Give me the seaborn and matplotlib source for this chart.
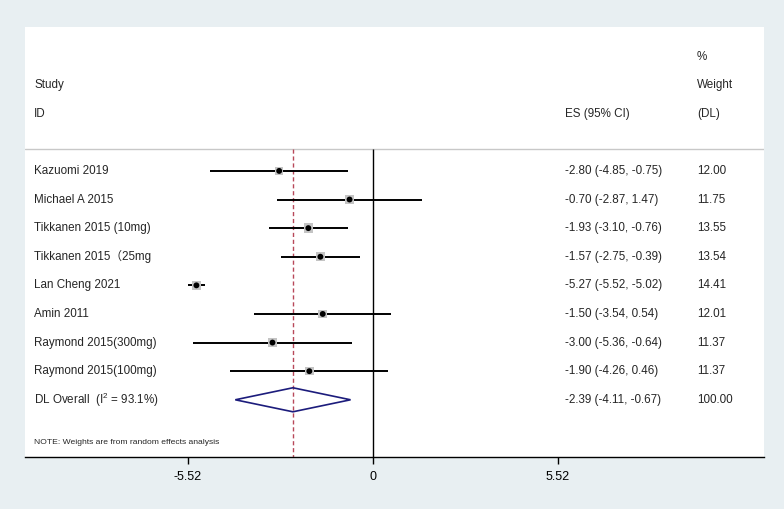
import numpy as np
import pandas as pd
import seaborn as sns
import matplotlib.pyplot as plt
import matplotlib.transforms as mtransforms

# data
studies = ["Kazuomi 2019", "Michael A 2015", "Tikkanen 2015 (10mg)", "Tikkanen 2015\uff0825mg",
           "Lan Cheng 2021", "Amin 2011", "Raymond 2015(300mg)", "Raymond 2015(100mg)"]
es = [-2.80, -0.70, -1.93, -1.57, -5.27, -1.50, -3.00, -1.90]
ci_low = [-4.85, -2.87, -3.10, -2.75, -5.52, -3.54, -5.36, -4.26]
ci_high = [-0.75, 1.47, -0.76, -0.39, -5.02, 0.54, -0.64, 0.46]
weights = [12.00, 11.75, 13.55, 13.54, 14.41, 12.01, 11.37, 11.37]

overall_label = r"DL Overall  ($\mathregular{I^{2}}$ = 93.1%)"
overall_es, overall_low, overall_high, overall_w = -2.39, -4.11, -0.67, 100.00
tick_vals = [-5.52, 0, 5.52]

bg = "#e8eff2"
sns.set_theme(style="white")
plt.rcParams['font.family'] = ['Liberation Sans', 'Noto Sans CJK SC', 'DejaVu Sans']
plt.rcParams['mathtext.fontset'] = 'custom'
plt.rcParams['mathtext.rm'] = 'Liberation Sans'

df = pd.DataFrame({"study": studies, "es": es, "lo": ci_low, "hi": ci_high, "w": weights})
df["row"] = np.arange(len(df))

fig = plt.figure(figsize=(7.84, 5.09), dpi=100, facecolor=bg)
ax = fig.add_axes([25 / 784, 52 / 509, 739 / 784, 430 / 509])
ax.set_facecolor("white")
ax.set_xlim(-10.385, 11.668)
ax.set_ylim(10.0, -5.03)

# header separator and reference lines
ax.axhline(-0.77, color="#c8c8c8", lw=1)
ax.vlines(0, -0.77, 10.0, color="black", lw=1)
ax.vlines(overall_es, -0.77, 10.0, color="#b8485a", lw=1, linestyles=(0, (3, 2)))

# CIs
ax.hlines(df["row"], df["lo"], df["hi"], color="black", lw=1.4, zorder=3)
sns.scatterplot(data=df, x="es", y="row", size="w", sizes=(36, 48), marker="s",
                color="#c4c4c4", edgecolor="none", legend=False, ax=ax, zorder=4)
sns.scatterplot(data=df, x="es", y="row", marker="o", color="black", s=18,
                edgecolor="none", legend=False, ax=ax, zorder=5)

# overall diamond
r = len(df)
ax.fill([overall_low, overall_es, overall_high, overall_es, overall_low],
        [r, r - 0.42, r, r + 0.42, r], facecolor="none", edgecolor="#1c1c7c", lw=1.2, zorder=3)

# text columns
tr = mtransforms.blended_transform_factory(ax.transAxes, ax.transData)
fs = 8.4
ax.text(0.0122, -3.0, "Study", transform=tr, fontsize=fs, va="center")
ax.text(0.0122, -2.0, "ID", transform=tr, fontsize=fs, va="center")
ax.text(0.7307, -2.0, "ES (95% CI)", transform=tr, fontsize=fs, va="center")
ax.text(0.9093, -3.99, "%", transform=tr, fontsize=fs, va="center")
ax.text(0.9093, -3.0, "Weight", transform=tr, fontsize=fs, va="center")
ax.text(0.9093, -2.0, "(DL)", transform=tr, fontsize=fs, va="center")

for i, row in df.iterrows():
    ax.text(0.0122, row["row"], row["study"], transform=tr, fontsize=fs, va="center")
    ax.text(0.7307, row["row"], f"{row['es']:.2f} ({row['lo']:.2f}, {row['hi']:.2f})",
            transform=tr, fontsize=fs, va="center")
    ax.text(0.9093, row["row"], f"{row['w']:.2f}", transform=tr, fontsize=fs, va="center")

ax.text(0.0122, r, overall_label, transform=tr, fontsize=fs, va="center")
ax.text(0.7307, r, f"{overall_es:.2f} ({overall_low:.2f}, {overall_high:.2f})",
        transform=tr, fontsize=fs, va="center")
ax.text(0.9093, r, f"{overall_w:.2f}", transform=tr, fontsize=fs, va="center")
ax.text(0.0122, 9.5, "NOTE: Weights are from random effects analysis", transform=tr,
        fontsize=6.1, va="center")

# axis styling
for s in ["top", "left", "right"]:
    ax.spines[s].set_visible(False)
ax.spines["bottom"].set_color("black")
ax.spines["bottom"].set_linewidth(1)
ax.set_xticks(tick_vals)
ax.set_xticklabels(["-5.52", "0", "5.52"])
ax.tick_params(axis="x", bottom=True, length=5, width=1, direction="out", labelsize=9, pad=5, colors="black")
ax.set_yticks([])
ax.set_xlabel("")
ax.set_ylabel("")

fig.savefig("out.png", dpi=100, facecolor=bg)
